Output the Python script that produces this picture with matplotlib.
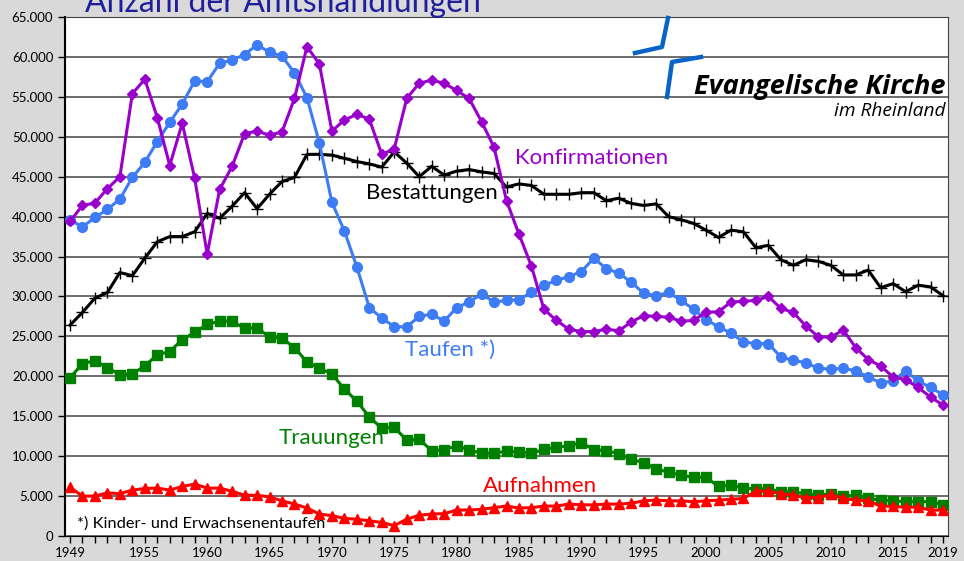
import matplotlib
matplotlib.use("Agg")
import matplotlib.pyplot as plt
from matplotlib.ticker import FuncFormatter

plt.rcParams['font.family'] = ['Lato', 'DejaVu Sans']

jahre = list(range(1949, 2020))

taufen = [39.6, 38.7, 39.9, 40.9, 42.2, 44.9, 46.8, 49.4, 51.8, 54.1,
          57.0, 56.9, 59.2, 59.6, 60.3, 61.5, 60.6, 60.1, 58.0, 54.9,
          49.2, 41.8, 38.2, 33.7, 28.6, 27.3, 26.2, 26.2, 27.5, 27.8,
          26.9, 28.6, 29.3, 30.3, 29.3, 29.5, 29.6, 30.5, 31.4, 32.0,
          32.5, 33.1, 34.8, 33.5, 32.9, 31.8, 30.4, 30.1, 30.5, 29.5,
          28.4, 27.1, 26.2, 25.4, 24.3, 24.1, 24.1, 22.4, 22.0, 21.7,
          21.0, 20.9, 21.0, 20.7, 19.9, 19.2, 19.4, 20.7, 19.4, 18.6,
          17.7]

konfirmationen = [39.4, 41.4, 41.7, 43.5, 45.0, 55.4, 57.2, 52.4, 46.4, 51.7,
                  44.8, 35.3, 43.4, 46.3, 50.4, 50.7, 50.2, 50.6, 54.8, 61.3,
                  59.1, 50.7, 52.1, 52.8, 52.2, 47.8, 48.5, 54.8, 56.7, 57.1,
                  56.7, 55.8, 54.8, 51.9, 48.7, 42.0, 37.8, 33.8, 28.4, 27.0,
                  25.9, 25.6, 25.6, 25.9, 25.7, 26.8, 27.6, 27.5, 27.4, 26.9,
                  27.0, 28.0, 28.1, 29.3, 29.4, 29.5, 30.0, 28.5, 28.0, 26.3,
                  24.95, 24.9, 25.8, 23.6, 22.1, 21.3, 19.9, 19.6, 18.6, 17.4,
                  16.4]

bestattungen = [26.4, 28.0, 29.8, 30.5, 33.0, 32.6, 34.8, 36.85, 37.5, 37.5,
                38.1, 40.4, 39.8, 41.3, 43.0, 41.0, 42.8, 44.4, 44.9, 47.8,
                47.8, 47.7, 47.3, 46.9, 46.6, 46.2, 48.1, 46.7, 45.0, 46.3,
                45.2, 45.7, 45.9, 45.6, 45.4, 43.7, 44.1, 43.9, 42.8, 42.8,
                42.8, 43.0, 43.0, 42.0, 42.3, 41.65, 41.4, 41.6, 40.0, 39.6,
                39.15, 38.3, 37.4, 38.3, 38.1, 36.1, 36.4, 34.6, 33.9, 34.6,
                34.4, 33.9, 32.7, 32.7, 33.3, 31.1, 31.6, 30.6, 31.4, 31.2,
                30.1]

trauungen = [19.8, 21.6, 21.95, 21.1, 20.2, 20.3, 21.3, 22.7, 23.1, 24.6,
             25.5, 26.5, 26.9, 26.9, 26.0, 26.1, 24.9, 24.75, 23.6, 21.8,
             21.0, 20.3, 18.4, 16.9, 14.9, 13.5, 13.6, 12.0, 12.1, 10.7,
             10.8, 11.3, 10.8, 10.35, 10.4, 10.6, 10.5, 10.35, 10.85, 11.1,
             11.3, 11.7, 10.8, 10.7, 10.3, 9.6, 9.2, 8.4, 8.0, 7.6,
             7.35, 7.35, 6.2, 6.4, 6.0, 5.9, 5.9, 5.55, 5.5, 5.3,
             5.1, 5.3, 5.0, 5.1, 4.7, 4.5, 4.4, 4.3, 4.3, 4.3,
             3.9]

aufnahmen = [6.1, 5.0, 5.0, 5.4, 5.3, 5.75, 5.95, 6.0, 5.75, 6.2,
             6.5, 6.0, 6.0, 5.6, 5.1, 5.1, 4.9, 4.4, 4.0, 3.5,
             2.75, 2.55, 2.2, 2.1, 1.9, 1.7, 1.3, 2.1, 2.6, 2.75,
             2.8, 3.25, 3.25, 3.35, 3.55, 3.75, 3.5, 3.55, 3.75, 3.75,
             4.0, 3.9, 3.9, 4.0, 4.0, 4.1, 4.4, 4.5, 4.4, 4.4,
             4.3, 4.4, 4.5, 4.6, 4.7, 5.6, 5.6, 5.3, 5.1, 4.8,
             4.8, 5.2, 4.7, 4.5, 4.4, 3.75, 3.7, 3.6, 3.6, 3.25,
             3.25]

xtick_jahre = [1949, 1955, 1960, 1965, 1970, 1975, 1980, 1985, 1990, 1995,
               2000, 2005, 2010, 2015, 2019]


def tausend(v):
    return [x * 1000 for x in v]


fig = plt.figure(figsize=(9.64, 5.61), dpi=100, facecolor='#d9d9d9')
ax = fig.add_axes([65/964, 25/561, 883/964, 519/561])
ax.set_facecolor('white')

lw = 2.2
ax.plot(jahre, tausend(trauungen), color='#008000', lw=lw, marker='s', ms=6.5,
        zorder=3)
ax.plot(jahre, tausend(aufnahmen), color='#ff0000', lw=lw, marker='^', ms=6.5,
        zorder=3)
ax.plot(jahre, tausend(bestattungen), color='black', lw=lw, marker='+', ms=9,
        mew=1.0, zorder=3)
ax.plot(jahre, tausend(taufen), color='#3d7cf5', lw=lw, marker='o', ms=7,
        zorder=4)
ax.plot(jahre, tausend(konfirmationen), color='#9900cc', lw=lw, marker='D',
        ms=5, zorder=4)

ax.set_xlim(1948.6, 2019.4)
ax.set_ylim(0, 65000)
ax.set_yticks(range(0, 65001, 5000))
ax.yaxis.set_major_formatter(FuncFormatter(
    lambda v, p: '0' if v == 0 else f'{int(v):,}'.replace(',', '.')))
ax.set_xticks(xtick_jahre)
ax.set_xticks(jahre, minor=True)
ax.grid(axis='y', color='#444444', lw=1.1, zorder=1)
ax.tick_params(axis='both', which='both', direction='out', length=5,
               width=1, labelsize=9.5, colors='black')
ax.tick_params(axis='x', pad=3)

for s in ['top', 'right']:
    ax.spines[s].set_color('#444444')
ax.spines['left'].set_color('black')
ax.spines['bottom'].set_color('black')
ax.spines['left'].set_linewidth(1.5)

# Beschriftungen
ax.text(1984.7, 47300, 'Konfirmationen', color='#9900cc', fontsize=16,
        va='center')
ax.text(1972.7, 42900, 'Bestattungen', color='black', fontsize=16,
        va='center')
ax.text(1975.9, 23300, 'Taufen *)', color='#3d7cf5', fontsize=16,
        va='center')
ax.text(1965.7, 12300, 'Trauungen', color='#008000', fontsize=16,
        va='center')
ax.text(1982.1, 6300, 'Aufnahmen', color='#ff0000', fontsize=16,
        va='center')
ax.text(1949.6, 1600, '*) Kinder- und Erwachsenentaufen', color='black',
        fontsize=11.8, va='center')

# Titel ragt wie im Original oben aus dem Bild
fig.text(85/964, 1 - 12/561, 'Anzahl der Amtshandlungen', color='#1f1f9c',
         fontsize=23, va='baseline', ha='left')

# Logo
blau = '#0a64c8'
fig.add_artist(plt.Line2D([668/964, 662/964, 635/964],
                          [1 - 18/561, 1 - 47/561, 1 - 53/561],
                          color=blau, lw=3.2, transform=fig.transFigure))
fig.add_artist(plt.Line2D([701/964, 672/964, 667/964],
                          [1 - 57/561, 1 - 62/561, 1 - 97/561],
                          color=blau, lw=3.2, transform=fig.transFigure))
fig.text(945/964, 1 - 94/561, 'Evangelische Kirche', color='black',
         fontsize=19.5, fontweight='bold', fontstyle='italic', ha='right',
         va='baseline', family=['Open Sans', 'DejaVu Sans'])
fig.text(945/964, 1 - 116/561, 'im Rheinland', color='black',
         fontsize=13.8, fontstyle='italic', ha='right', va='baseline',
         family=['Open Sans', 'DejaVu Sans'])

fig.savefig('out.png', dpi=100, facecolor=fig.get_facecolor())
